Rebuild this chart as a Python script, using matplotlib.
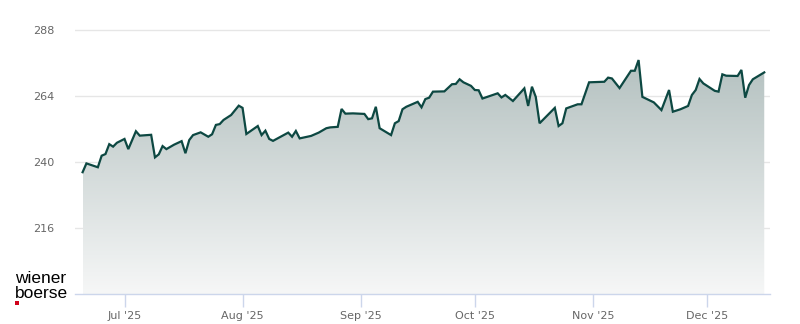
import matplotlib
matplotlib.use("Agg")
import matplotlib.pyplot as plt
import matplotlib.dates as mdates
import numpy as np
import pandas as pd
from matplotlib.patches import Polygon, Rectangle
from matplotlib.colors import LinearSegmentedColormap

dates = [
    "2025-06-20", "2025-06-21", "2025-06-24", "2025-06-25", "2025-06-26", "2025-06-27",
    "2025-06-28", "2025-06-29", "2025-07-01", "2025-07-02", "2025-07-04", "2025-07-05",
    "2025-07-08", "2025-07-09", "2025-07-10", "2025-07-11", "2025-07-12", "2025-07-14",
    "2025-07-16", "2025-07-17", "2025-07-18", "2025-07-19", "2025-07-21", "2025-07-23",
    "2025-07-24", "2025-07-25", "2025-07-26", "2025-07-27", "2025-07-29", "2025-07-31",
    "2025-08-01", "2025-08-02", "2025-08-05", "2025-08-06", "2025-08-07", "2025-08-08",
    "2025-08-09", "2025-08-11", "2025-08-13", "2025-08-14", "2025-08-15", "2025-08-16",
    "2025-08-19", "2025-08-21", "2025-08-23", "2025-08-24", "2025-08-26", "2025-08-27",
    "2025-08-28", "2025-08-30", "2025-09-02", "2025-09-03", "2025-09-04", "2025-09-05",
    "2025-09-06", "2025-09-09", "2025-09-10", "2025-09-11", "2025-09-12", "2025-09-13",
    "2025-09-16", "2025-09-17", "2025-09-18", "2025-09-19", "2025-09-20", "2025-09-23",
    "2025-09-25", "2025-09-26", "2025-09-27", "2025-09-28", "2025-09-30", "2025-10-01",
    "2025-10-02", "2025-10-03", "2025-10-07", "2025-10-08", "2025-10-09", "2025-10-11",
    "2025-10-14", "2025-10-15", "2025-10-16", "2025-10-17", "2025-10-18", "2025-10-22",
    "2025-10-23", "2025-10-24", "2025-10-25", "2025-10-28", "2025-10-29", "2025-10-31",
    "2025-11-04", "2025-11-05", "2025-11-06", "2025-11-08", "2025-11-11", "2025-11-12",
    "2025-11-13", "2025-11-14", "2025-11-17", "2025-11-19", "2025-11-21", "2025-11-22",
    "2025-11-24", "2025-11-26", "2025-11-27", "2025-11-28", "2025-11-29", "2025-11-30",
    "2025-12-03", "2025-12-04", "2025-12-05", "2025-12-06", "2025-12-09", "2025-12-10",
    "2025-12-11", "2025-12-12", "2025-12-13", "2025-12-16",
]
values = [
    236.3, 239.5, 238.1, 242.3, 242.9, 246.5,
    245.6, 247.0, 248.4, 244.7, 251.2, 249.6,
    249.9, 241.7, 242.8, 245.8, 244.7, 246.3,
    247.6, 243.2, 248.0, 249.8, 250.8, 249.2,
    250.1, 253.5, 253.8, 255.3, 257.1, 260.5,
    259.7, 250.2, 253.1, 249.8, 251.4, 248.4,
    247.7, 249.2, 250.7, 249.2, 251.3, 248.6,
    249.5, 250.7, 252.3, 252.6, 252.8, 259.3,
    257.6, 257.7, 257.5, 255.6, 255.9, 260.1,
    252.3, 249.8, 254.1, 254.9, 259.2, 260.1,
    261.9, 259.9, 262.9, 263.4, 265.6, 265.7,
    268.3, 268.4, 270.1, 269.0, 267.7, 266.2,
    266.1, 263.1, 265.0, 263.5, 264.4, 262.2,
    266.8, 260.4, 267.4, 263.7, 254.1, 259.7,
    253.1, 254.1, 259.5, 261.0, 261.0, 269.0,
    269.2, 270.7, 270.4, 266.9, 273.2, 273.2,
    277.1, 263.7, 261.7, 258.9, 266.2, 258.3,
    259.2, 260.4, 264.4, 266.2, 270.2, 268.6,
    265.9, 265.6, 271.9, 271.4, 271.3, 273.5,
    263.4, 268.0, 270.1, 272.6,
]
y_ticks = [216, 240, 264, 288]
month_ticks = ["2025-07-01", "2025-08-01", "2025-09-01", "2025-10-01", "2025-11-01", "2025-12-01"]
month_labels = ["Jul '25", "Aug '25", "Sep '25", "Oct '25", "Nov '25", "Dec '25"]

x = mdates.date2num(pd.to_datetime(dates))
y = np.array(values)
y_min, y_max = 192, 295.3

fig = plt.figure(figsize=(8, 3.24), dpi=100)
fig.patch.set_facecolor("white")
ax = fig.add_axes([75 / 800, 30 / 324, 695 / 800, 284 / 324])
ax.set_facecolor("white")

jul1 = mdates.date2num(pd.Timestamp("2025-07-01"))
px_per_day = 3.808
x_left = jul1 + (75 - 124.5) / px_per_day
x_right = jul1 + (770 - 124.5) / px_per_day

# gridlines
for t in y_ticks:
    ax.axhline(t, color="#e6e6e6", lw=1, zorder=0)

# gradient fill
cmap = LinearSegmentedColormap.from_list("g", ["#f6f7f7", "#b4c1c0"])
grad = np.linspace(0, 1, 256).reshape(-1, 1)
im = ax.imshow(grad, cmap=cmap, aspect="auto", origin="lower",
               extent=[x[0], x[-1], y_min, y.max()], zorder=1)
poly_xy = np.column_stack([np.concatenate([x, [x[-1], x[0]]]),
                           np.concatenate([y, [y_min, y_min]])])
poly = Polygon(poly_xy, closed=True, facecolor="none", edgecolor="none")
ax.add_patch(poly)
im.set_clip_path(poly)

ax.plot(x, y, color="#0d4842", lw=1.6, zorder=3, solid_joinstyle="miter")

ax.set_xlim(x_left, x_right)
ax.set_ylim(y_min, y_max)

for s in ["top", "right", "left"]:
    ax.spines[s].set_visible(False)
ax.spines["bottom"].set_color("#ccd6eb")
ax.spines["bottom"].set_linewidth(1)

ax.set_yticks(y_ticks)
ax.set_yticklabels([str(t) for t in y_ticks])
ax.tick_params(axis="y", length=0, pad=15, labelsize=8, labelcolor="#666666")
ax.set_xticks(mdates.date2num(pd.to_datetime(month_ticks)))
ax.set_xticklabels(month_labels)
ax.tick_params(axis="x", length=9, width=1, color="#ccd6eb", pad=3,
               labelsize=8, labelcolor="#666666")
for lab in ax.get_xticklabels() + ax.get_yticklabels():
    lab.set_family("DejaVu Sans")

# logo
fig.text(15 / 800, 1 - 283 / 324, "wiener", fontsize=12.5, family="Liberation Sans",
         color="black", va="baseline", ha="left")
fig.text(15 / 800, 1 - 298 / 324, "boerse", fontsize=12.5, family="Liberation Sans",
         color="black", va="baseline", ha="left")
fig.patches.append(Rectangle((15 / 800, 1 - 305 / 324), 4 / 800, 4 / 324,
                             transform=fig.transFigure, facecolor="#d0021b",
                             edgecolor="none"))

fig.savefig("out.png", dpi=100, facecolor="white")
